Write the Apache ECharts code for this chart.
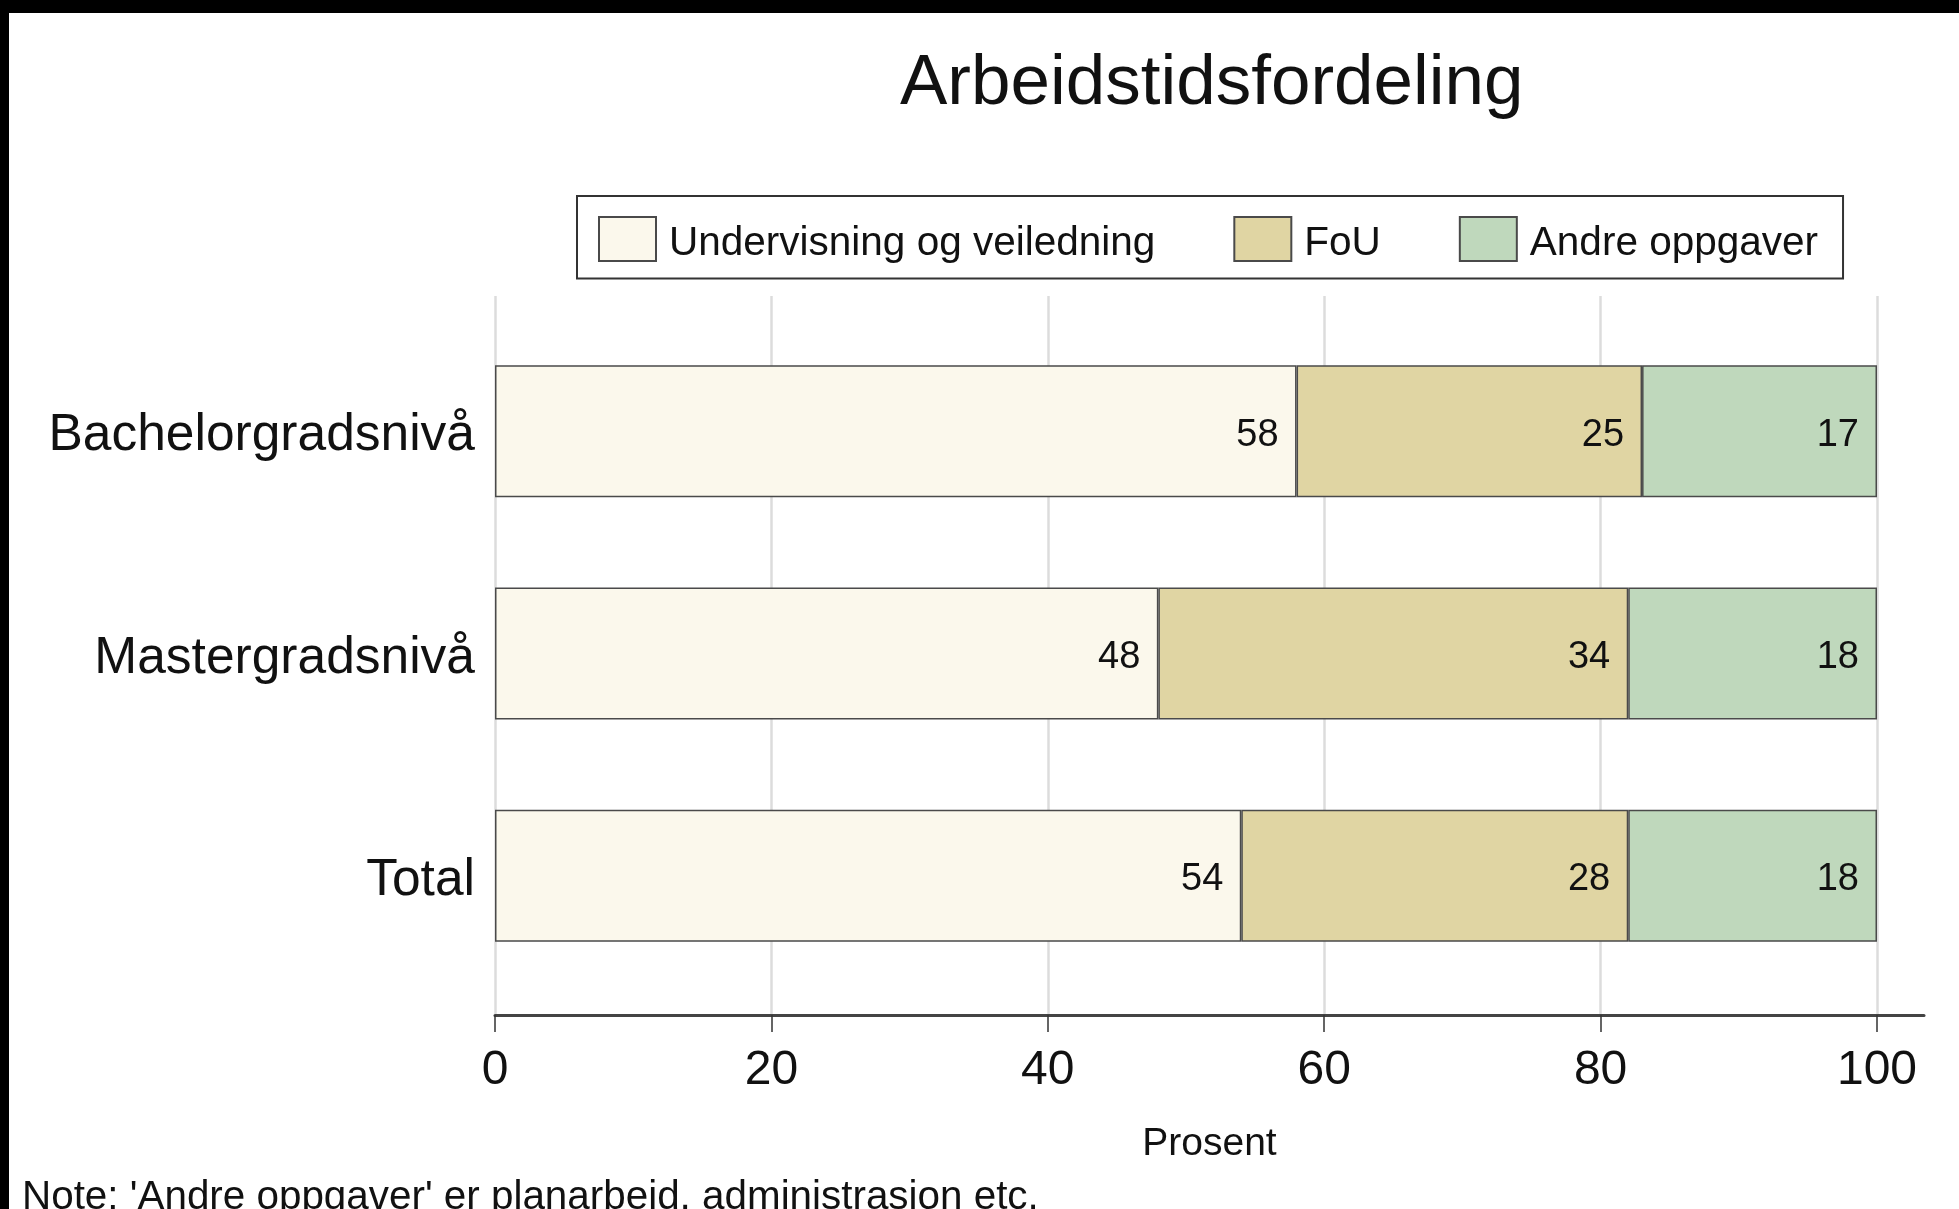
<!DOCTYPE html>
<html>
<head>
<meta charset="utf-8">
<script src="https://cdn.jsdelivr.net/npm/echarts@6/dist/echarts.min.js"></script>
<style>
  html, body { margin: 0; padding: 0; background: #000; }
  #chart { position: absolute; left: 9px; top: 13px; width: 1950px; height: 1196px; background: #fff; }
</style>
</head>
<body>
<div id="chart"></div>
<script>
const categories = ['Bachelorgradsnivå', 'Mastergradsnivå', 'Total'];
const seriesNames = ['Undervisning og veiledning', 'FoU', 'Andre oppgaver'];
const undervisning = [58, 48, 54];
const fou = [25, 34, 28];
const andre = [17, 18, 18];
const xTicks = [0, 20, 40, 60, 80, 100];

const colors = ['#fbf8ec', '#e0d5a3', '#bfd8bc'];
const font = 'Liberation Sans, Arial, Helvetica, sans-serif';

const chart = echarts.init(document.getElementById('chart'));

const makeSeries = (name, values, color) => ({
  name,
  type: 'bar',
  stack: 'total',
  xAxisIndex: 2,
  yAxisIndex: 2,
  barWidth: 132,
  data: values,
  itemStyle: { color, borderColor: '#4a4a4a', borderWidth: 1.5 },
  label: {
    show: true,
    position: 'insideRight',
    distance: 18,
    offset: [0, 4],
    fontSize: 38,
    fontFamily: font,
    color: '#111'
  },
  emphasis: { disabled: true }
});

const option = {
  backgroundColor: '#fff',
  animation: false,
  title: [
    {
      text: 'Arbeidstidsfordeling',
      left: 891,
      top: 36,
      padding: 0,
      textStyle: { fontSize: 71, fontWeight: 'normal', fontFamily: font, color: '#111' }
    },
    {
      text: "Note: 'Andre oppgaver' er planarbeid, administrasjon etc.",
      left: 13,
      top: 1165,
      padding: 0,
      textStyle: { fontSize: 40.4, fontWeight: 'normal', fontFamily: font, color: '#111' }
    }
  ],
  legend: {
    data: seriesNames,
    left: 568,
    top: 183,
    padding: [20, 25, 14, 21],
    borderColor: '#333',
    borderWidth: 2,
    itemWidth: 57,
    itemHeight: 44,
    itemGap: 78,
    icon: 'rect',
    selectedMode: false,
    formatter: (name) => '{t|' + name + '}',
    textStyle: {
      fontSize: 40.5,
      fontFamily: font,
      color: '#111',
      rich: {
        t: { fontSize: 40.5, fontFamily: font, color: '#111', padding: [10, 0, 0, 8] }
      }
    }
  },
  grid: [
    { left: 486, top: 283, width: 1429, height: 719 },
    { left: 486, top: 283, width: 1382, height: 719 },
    { left: 486, top: 307, width: 1382, height: 667 }
  ],
  xAxis: [
    {
      gridIndex: 0,
      type: 'value',
      min: 0,
      max: 100,
      name: 'Prosent',
      nameLocation: 'middle',
      nameGap: 110,
      nameTextStyle: { fontSize: 39, fontFamily: font, color: '#111' },
      axisLine: { show: true, lineStyle: { color: '#444', width: 3 } },
      axisTick: { show: false },
      axisLabel: { show: false },
      splitLine: { show: false }
    },
    {
      gridIndex: 1,
      type: 'value',
      min: xTicks[0],
      max: xTicks[xTicks.length - 1],
      interval: 20,
      axisLine: { show: false },
      axisTick: { show: true, length: 17, lineStyle: { color: '#333', width: 1.5 } },
      axisLabel: { fontSize: 48, margin: 32, fontFamily: font, color: '#111' },
      splitLine: { show: true, lineStyle: { color: '#dcdcdc', width: 2.5 } }
    },
    {
      gridIndex: 2,
      type: 'value',
      min: 0,
      max: 100,
      show: false
    }
  ],
  yAxis: [
    { gridIndex: 0, type: 'category', data: categories, show: false },
    { gridIndex: 1, type: 'category', data: categories, show: false },
    {
      gridIndex: 2,
      type: 'category',
      data: categories,
      inverse: true,
      axisLine: { show: false },
      axisTick: { show: false },
      axisLabel: {
        fontSize: 51.5,
        margin: 20,
        fontFamily: font,
        color: '#111',
        verticalAlign: 'top',
        lineHeight: 10
      }
    }
  ],
  series: [
    makeSeries(seriesNames[0], undervisning, colors[0]),
    makeSeries(seriesNames[1], fou, colors[1]),
    makeSeries(seriesNames[2], andre, colors[2])
  ]
};

chart.setOption(option);
</script>
</body>
</html>
